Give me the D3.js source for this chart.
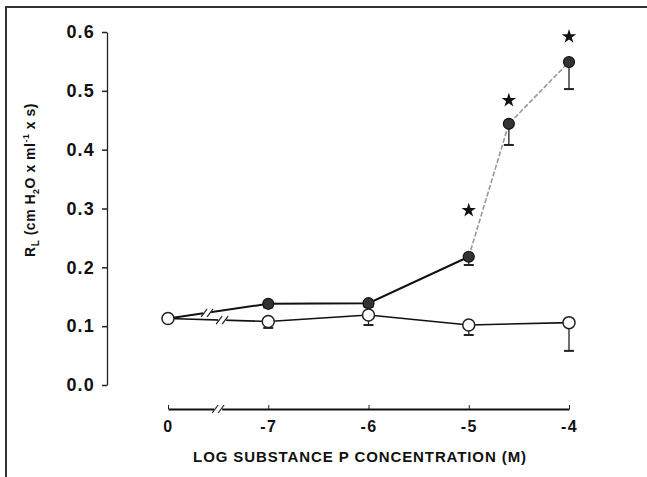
<!DOCTYPE html>
<html><head><meta charset="utf-8">
<script src="https://cdn.jsdelivr.net/npm/d3@7"></script>
<style>html,body{margin:0;padding:0;background:#fff;}svg{display:block;}</style>
</head><body>
<script>
// ---- data ----
const xTickPos = [-8, -7, -6, -5, -4];
const xTickLabels = ["0", "-7", "-6", "-5", "-4"];
const yTicks = [0.0, 0.1, 0.2, 0.3, 0.4, 0.5, 0.6];
const filledX = [-8, -7, -6, -5, -4.6, -4];
const filledY = [0.113, 0.138, 0.139, 0.218, 0.444, 0.549];
const filledErr = [0.005, 0.006, 0.006, 0.014, 0.036, 0.046];
const openX = [-8, -7, -6, -5, -4];
const openY = [0.113, 0.108, 0.119, 0.102, 0.106];
const openErr = [0.005, 0.011, 0.017, 0.017, 0.048];
const starX = [-5, -4.6, -4];
const starY = [0.297, 0.484, 0.592];
const breakFilledX = -7.61, breakOpenX = -7.46, breakAxisX = -7.5;

const W = 647, H = 477;
const svg = d3.select("body").append("svg").attr("width", W).attr("height", H);
const font = "'Liberation Sans', Arial, sans-serif";

// frame
svg.append("path").attr("d", `M6,${H} L6,7 L${W},7`).attr("fill", "none")
  .attr("stroke", "#333").attr("stroke-width", 2);

const x = d3.scaleLinear().domain([-8, -4]).range([168, 569]);
const y = d3.scaleLinear().domain([0, 0.6]).range([385, 32]);

// y axis
const yAxis = svg.append("g").attr("transform", "translate(107,0)")
  .call(d3.axisLeft(y).tickValues(yTicks).tickFormat(d3.format(".1f")).tickSize(5).tickSizeOuter(0));
yAxis.select(".domain").attr("stroke", "#222").attr("stroke-width", 1.3);
yAxis.selectAll(".tick line").attr("stroke", "#222").attr("stroke-width", 1.5);
yAxis.selectAll(".tick text").attr("font-family", font).attr("font-weight", "bold")
  .attr("font-size", 18).attr("letter-spacing", 1.2).attr("fill", "#111").attr("x", -12);

// x axis
const xAxisY = 409;
const xAxis = svg.append("g").attr("transform", `translate(0,${xAxisY})`)
  .call(d3.axisBottom(x).tickValues(xTickPos).tickFormat((d, i) => xTickLabels[i]).tickSize(-4).tickSizeOuter(0));
xAxis.select(".domain").attr("stroke", "#111").attr("stroke-width", 2);
xAxis.selectAll(".tick line").attr("stroke", "#222").attr("stroke-width", 1);
xAxis.selectAll(".tick text").attr("font-family", font).attr("font-weight", "bold")
  .attr("font-size", 16).attr("letter-spacing", 1.5).attr("fill", "#111").attr("y", 12);

function drawBreak(px, py) {
  const g = svg.append("g").attr("transform", `translate(${px},${py})`);
  g.append("rect").attr("x", -4).attr("y", -4).attr("width", 8).attr("height", 8).attr("fill", "#fff");
  [-3, 3].forEach(dx => g.append("line").attr("x1", dx - 3).attr("y1", 4).attr("x2", dx + 3).attr("y2", -4)
    .attr("stroke", "#222").attr("stroke-width", 1.2));
}
drawBreak(x(breakAxisX), xAxisY);

// lines
const line = d3.line().x(d => x(d[0])).y(d => y(d[1]));
const fPts = filledX.map((v, i) => [v, filledY[i]]);
const oPts = openX.map((v, i) => [v, openY[i]]);
svg.append("path").attr("d", line(oPts)).attr("fill", "none").attr("stroke", "#111").attr("stroke-width", 1.6);
svg.append("path").attr("d", line(fPts.slice(0, 4))).attr("fill", "none").attr("stroke", "#111").attr("stroke-width", 2);
svg.append("path").attr("d", line(fPts.slice(3))).attr("fill", "none").attr("stroke", "#999")
  .attr("stroke-width", 1.6).attr("stroke-dasharray", "5,2");

function interp(xs, ys, xv) {
  for (let i = 0; i < xs.length - 1; i++) {
    if (xv >= xs[i] && xv <= xs[i + 1]) {
      const t = (xv - xs[i]) / (xs[i + 1] - xs[i]);
      return ys[i] + t * (ys[i + 1] - ys[i]);
    }
  }
  return ys[0];
}
drawBreak(x(breakFilledX), y(interp(filledX, filledY, breakFilledX)));
drawBreak(x(breakOpenX), y(interp(openX, openY, breakOpenX)));

// error bars
function errBars(xs, ys, es) {
  xs.forEach((xv, i) => {
    const cx = x(xv), top = y(ys[i]), bot = y(ys[i] - es[i]);
    svg.append("line").attr("x1", cx).attr("x2", cx).attr("y1", top).attr("y2", bot).attr("stroke", "#222").attr("stroke-width", 1.3);
    svg.append("line").attr("x1", cx - 5).attr("x2", cx + 5).attr("y1", bot).attr("y2", bot).attr("stroke", "#222").attr("stroke-width", 2);
  });
}
errBars(openX, openY, openErr);
errBars(filledX, filledY, filledErr);

// points: filled first, open on top (control point shows as open)
svg.selectAll(".fp").data(fPts).join("circle").attr("cx", d => x(d[0])).attr("cy", d => y(d[1])).attr("r", 5.5)
  .attr("fill", "#333").attr("stroke", "#111").attr("stroke-width", 1.2);
svg.selectAll(".op").data(oPts).join("circle").attr("cx", d => x(d[0])).attr("cy", d => y(d[1])).attr("r", 6)
  .attr("fill", "#fff").attr("stroke", "#222").attr("stroke-width", 1.5);

// stars
const star = d3.symbol().type(d3.symbolStar).size(65);
starX.forEach((xv, i) => {
  svg.append("path").attr("d", star()).attr("transform", `translate(${x(xv)},${y(starY[i])})`).attr("fill", "#111");
});

// titles
svg.append("text").attr("x", 360).attr("y", 462).attr("text-anchor", "middle")
  .attr("font-family", font).attr("font-weight", "bold").attr("font-size", 15).attr("letter-spacing", 0.9).attr("fill", "#111")
  .text("LOG SUBSTANCE P CONCENTRATION (M)");

const yt = svg.append("text").attr("transform", "translate(35,180) rotate(-90)").attr("text-anchor", "middle")
  .attr("font-family", font).attr("font-weight", "bold").attr("font-size", 14).attr("letter-spacing", 0.5).attr("fill", "#111");
yt.append("tspan").text("R");
yt.append("tspan").attr("font-size", 10).attr("dy", 4).text("L");
yt.append("tspan").attr("dy", -4).text("  (cm H");
yt.append("tspan").attr("font-size", 9).attr("dy", 4).text("2");
yt.append("tspan").attr("dy", -4).text("O x ml");
yt.append("tspan").attr("font-size", 9).attr("dy", -6).text("-1");
yt.append("tspan").attr("dy", 6).text(" x s)");
</script>
</body></html>
